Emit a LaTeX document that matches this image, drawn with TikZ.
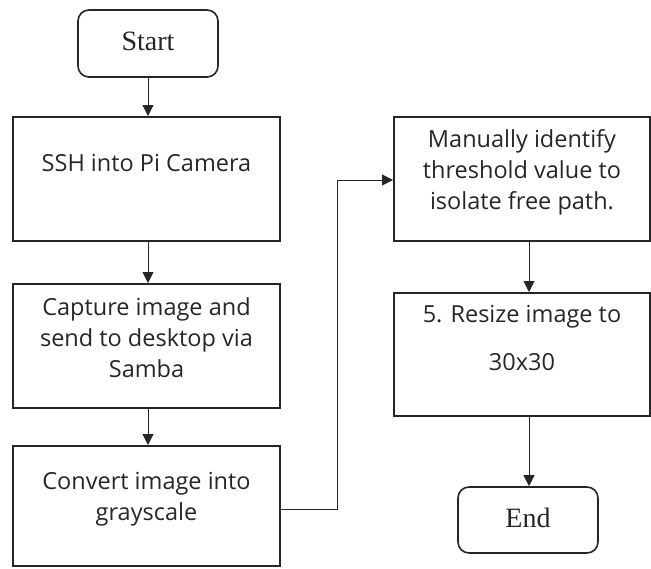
\documentclass[tikz,border=0pt]{standalone}
\usepackage{fontspec}
\setmainfont{Open Sans}
\newfontfamily\serifface{Liberation Serif}
\usetikzlibrary{arrows.meta}
\begin{document}
\begin{tikzpicture}[x=1pt,y=-1pt,
  stepbox/.style={draw=black!85,line width=2pt,rectangle,inner sep=0pt},
  termbox/.style={draw=black!85,line width=1.6pt,rectangle,rounded corners=11pt,inner sep=0pt},
  txt/.style={font=\fontsize{23.5}{31}\selectfont,text=black!85,align=center,inner sep=0pt},
  stxt/.style={font=\serifface\fontsize{28}{30}\selectfont,text=black!85,inner sep=0pt},
  conn/.style={draw=black!85,line width=1pt,-{Triangle[length=11pt,width=11pt]}}]
\useasboundingbox (0,0) rectangle (651,568);
\node[termbox,minimum width=140pt,minimum height=67pt] (start) at (148,43.5) {};
\node[stxt] (starttxt) at (148,41) {Start};
\node[stepbox,minimum width=267pt,minimum height=124pt] (b1) at (146.5,179) {};
\node[txt] (b1t) at (146.5,163) {SSH into Pi Camera};
\node[stepbox,minimum width=267pt,minimum height=124pt] (b2) at (146.5,346) {};
\node[txt] (b2t) at (146.5,338) {Capture image and\\send to desktop via\\Samba};
\node[stepbox,minimum width=267pt,minimum height=120pt] (b3) at (146.5,506) {};
\node[txt] (b3t) at (146.5,499.5) {Convert image into\\grayscale};
\node[stepbox,minimum width=256pt,minimum height=124pt] (b4) at (522,179) {};
\node[txt] (b4t) at (522,172.5) {Manually identify\\threshold value to\\isolate free path.};
\node[stepbox,minimum width=256pt,minimum height=123pt] (b5) at (522,354.5) {};
\node[txt] (b5t) at (522,317) {5. Resize image to};
\node[txt] (b5u) at (522,362) {30x30};
\node[termbox,minimum width=140pt,minimum height=66pt] (end) at (528,520) {};
\node[stxt] (endtxt) at (528,518) {End};
\draw[conn] (start.south) -- (start.south |- b1.north);
\draw[conn] (b1.south -| start.south) -- (start.south |- b2.north);
\draw[conn] (b2.south -| start.south) -- (start.south |- b3.north);
\coordinate (c1) at (337,509);
\coordinate (c2) at (337,180);
\draw[conn] (b3.east |- c1) -- (c1) -- (c2) -- (b4.west |- c2);
\coordinate (d1) at (529,0);
\draw[conn] (b4.south -| d1) -- (b5.north -| d1);
\draw[conn] (b5.south -| d1) -- (end.north -| d1);
\end{tikzpicture}
\end{document}
